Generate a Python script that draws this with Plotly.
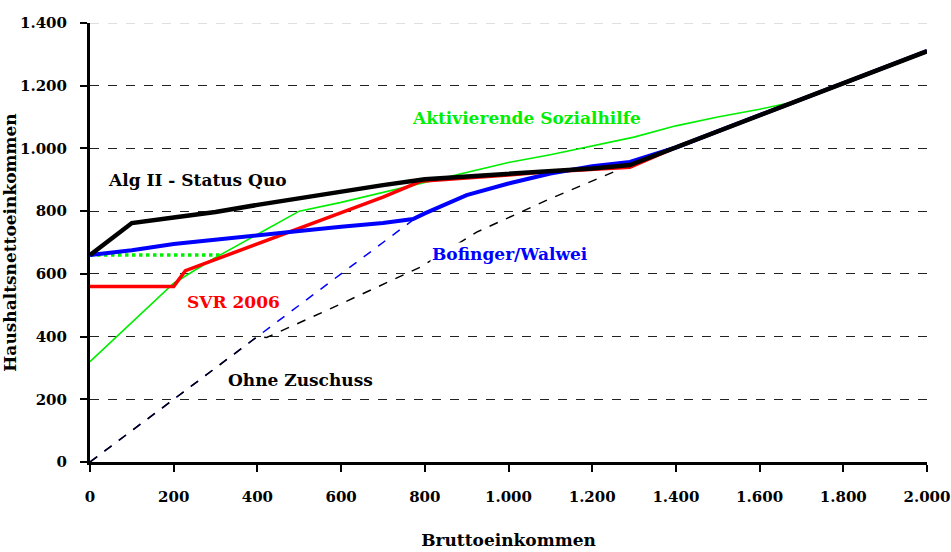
import plotly.graph_objects as go

# ---- data ----
alg2_x = [0, 100, 200, 300, 400, 500, 600, 700, 800, 900, 1000, 1100, 1200, 1290, 1400, 1600, 1800, 2000]
alg2_y = [660, 762, 780, 797, 820, 842, 862, 883, 902, 910, 921, 928, 936, 947, 1003, 1106, 1207, 1310]

bof_x = [0, 100, 200, 300, 400, 500, 600, 700, 772, 800, 900, 1000, 1100, 1200, 1290, 1400, 1600, 1800, 2000]
bof_y = [660, 675, 695, 710, 722, 737, 750, 762, 775, 793, 851, 888, 920, 943, 957, 1003, 1106, 1207, 1310]

svr_x = [0, 200, 228, 400, 500, 600, 700, 790, 900, 1000, 1100, 1200, 1290, 1400, 1600, 1800, 2000]
svr_y = [560, 560, 610, 695, 745, 795, 845, 895, 905, 915, 926, 933, 940, 1003, 1106, 1207, 1310]

akt_x = [0, 100, 200, 300, 400, 500, 600, 700, 800, 900, 1000, 1100, 1200, 1300, 1400, 1500, 1600, 1680, 1800, 2000]
akt_y = [320, 445, 570, 652, 727, 800, 828, 860, 892, 925, 955, 980, 1008, 1036, 1072, 1100, 1125, 1148, 1207, 1310]

akt_dot_x = [0, 310]
akt_dot_y = [660, 660]

bof_dash_x = [0, 200, 400, 600, 772]
bof_dash_y = [0, 200, 400, 600, 772]

ohne_x = [0, 200, 400, 422, 573, 790, 924, 1100, 1290]
ohne_y = [0, 200, 400, 397, 488, 622, 733, 840, 947]

labels = ["Alg II - Status Quo", "Aktivierende Sozialhilfe", "SVR 2006", "Bofinger/Walwei", "Ohne Zuschuss"]
label_x = [256, 1044, 342, 1004, 502]
label_y = [899, 1097, 510, 663, 261]
label_col = ["#000000", "#00ee00", "#ff0000", "#0000ff", "#000000"]

x_ticks = list(range(0, 2001, 200))
y_ticks = list(range(0, 1401, 200))

FONT = "DejaVu Serif"

fig = go.Figure()
fig.add_trace(go.Scatter(x=akt_x, y=akt_y, mode="lines", line=dict(color="#00ee00", width=1.6)))
fig.add_trace(go.Scatter(x=akt_dot_x, y=akt_dot_y, mode="lines", line=dict(color="#00ee00", width=3.5, dash="dot")))
fig.add_trace(go.Scatter(x=bof_dash_x, y=bof_dash_y, mode="lines", line=dict(color="#0000ff", width=1.5, dash="dash")))
fig.add_trace(go.Scatter(x=ohne_x, y=ohne_y, mode="lines", line=dict(color="#000000", width=1.5, dash="dash")))
fig.add_trace(go.Scatter(x=svr_x, y=svr_y, mode="lines", line=dict(color="#ff0000", width=3.5)))
fig.add_trace(go.Scatter(x=bof_x, y=bof_y, mode="lines", line=dict(color="#0000ff", width=4)))
fig.add_trace(go.Scatter(x=alg2_x, y=alg2_y, mode="lines", line=dict(color="#000000", width=4.5)))

for t, x, y, c in zip(labels, label_x, label_y, label_col):
    fig.add_annotation(x=x, y=y, text="<b>%s</b>" % t, showarrow=False,
                       font=dict(family=FONT, size=17, color=c),
                       bgcolor="white" if t == "Bofinger/Walwei" else None)

# light top gridline (as in the reference)
fig.add_shape(type="line", xref="paper", x0=0, x1=1, yref="y", y0=y_ticks[-1], y1=y_ticks[-1],
              line=dict(color="#c0c0c0", width=1.2, dash="dash"), layer="below")

fig.update_layout(
    width=951, height=552,
    margin=dict(l=90, r=24, t=23, b=90),
    paper_bgcolor="white", plot_bgcolor="white",
    showlegend=False,
    separators=",.",
    font=dict(family=FONT, size=15, color="black"),
)
fig.update_xaxes(
    range=[0, 2000], tickvals=x_ticks, tickformat=",d", automargin=False,
    ticks="outside", ticklen=7, tickwidth=1.5, tickcolor="black",
    showline=True, linecolor="black", linewidth=3,
    showgrid=False, zeroline=False,
    ticklabelstandoff=12,
    tickfont=dict(family=FONT, size=15, color="black", weight="bold"),
    title=dict(text="<b>Bruttoeinkommen</b>", font=dict(family=FONT, size=17), standoff=30),
)
fig.update_yaxes(
    range=[0, 1400], tickvals=y_ticks, tickformat=",d", automargin=False,
    ticks="outside", ticklen=7, tickwidth=1.5, tickcolor="black",
    showline=True, linecolor="black", linewidth=3,
    showgrid=True, gridcolor="#222222", gridwidth=1, griddash="dash",
    zeroline=False,
    ticklabelstandoff=10,
    tickfont=dict(family=FONT, size=15, color="black", weight="bold"),
    title=dict(text="<b>Haushaltsnettoeinkommen</b>", font=dict(family=FONT, size=17), standoff=12),
)

fig.write_html("out.html", config={"displayModeBar": False},
               post_script="document.body.style.margin='0';document.body.style.overflow='hidden';")
